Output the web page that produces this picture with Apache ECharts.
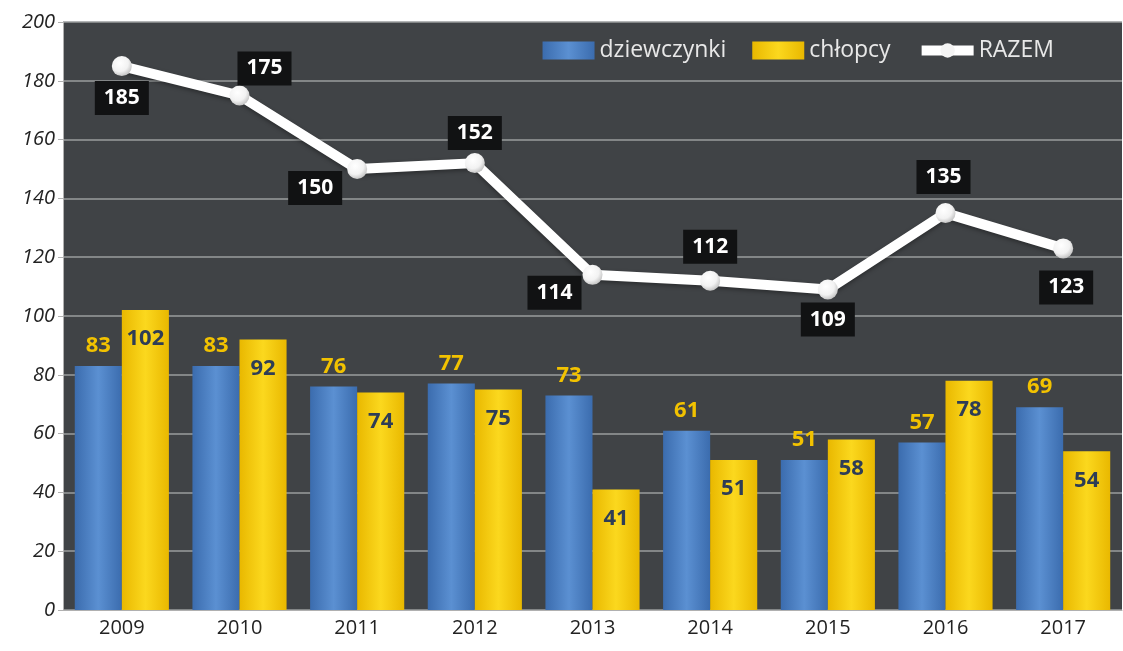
<!DOCTYPE html>
<html><head><meta charset="utf-8">
<script src="https://cdn.jsdelivr.net/npm/echarts@6/dist/echarts.min.js"></script>
<style>html,body{margin:0;padding:0;background:#fff}#c{width:1123px;height:651px}</style>
</head><body><div id="c"></div>
<script>
const years = ['2009','2010','2011','2012','2013','2014','2015','2016','2017'];
const girls = [83, 83, 76, 77, 73, 61, 51, 57, 69];
const boys = [102, 92, 74, 75, 41, 51, 58, 78, 54];
const total = [185, 175, 150, 152, 114, 112, 109, 135, 123];
const seriesNames = ['dziewczynki', 'chłopcy', 'RAZEM'];
// label offsets for the total line (styling only)
const totalLabelOffsets = [[0,32],[25,-27],[-42,19],[0,-30],[-38,18],[0,-34],[0,30],[-2,-36],[3,39]];

const chart = echarts.init(document.getElementById('c'));
const F = 'Open Sans';
const blueGrad = new echarts.graphic.LinearGradient(0,0,1,0,[
  {offset:0,color:'#3b6cae'},{offset:0.5,color:'#5b90d2'},{offset:1,color:'#3b6cae'}]);
const yellowGrad = new echarts.graphic.LinearGradient(0,0,1,0,[
  {offset:0,color:'#e9b800'},{offset:0.5,color:'#fbd81e'},{offset:1,color:'#e9b800'}]);
const ballGrad = new echarts.graphic.RadialGradient(0.4,0.35,0.7,[
  {offset:0,color:'#ffffff'},{offset:0.6,color:'#f2f2f2'},{offset:1,color:'#bdbdbd'}]);

chart.setOption({
  animation: false,
  grid: {left: 63, right: 1, top: 22, bottom: 41, show: true, backgroundColor: '#404346', borderWidth: 0},
  legend: {
    right: 64, top: 34, itemGap: 26, itemWidth: 52, itemHeight: 18,
    textStyle: {color: '#e8e8e8', fontSize: 23, fontFamily: F},
    data: [
      {name: seriesNames[0], icon: 'rect'},
      {name: seriesNames[1], icon: 'rect'},
      {name: seriesNames[2], lineStyle: {width: 10, color: '#ffffff'}, itemStyle: {color: '#f4f4f4'}}
    ]
  },
  xAxis: {
    type: 'category', data: years,
    axisLine: {lineStyle: {color: '#b0b0b0'}},
    axisLabel: {fontSize: 20, color: '#222222', fontFamily: F}
  },
  yAxis: {
    type: 'value', min: 0, max: 200, interval: 20,
    axisLine: {show: true, lineStyle: {color: '#b0b0b0'}},
    axisTick: {show: true},
    splitLine: {lineStyle: {color: '#9a9c9e', width: 1.5}},
    axisLabel: {fontSize: 20, color: '#222222', fontStyle: 'italic', fontFamily: F}
  },
  series: [
    {
      name: seriesNames[0], type: 'bar', data: girls, barGap: '0%', barCategoryGap: '20%',
      itemStyle: {color: blueGrad},
      label: {show: true, position: 'top', distance: 9, color: '#f2c200', fontSize: 22, fontWeight: 'bold', fontFamily: F}
    },
    {
      name: seriesNames[1], type: 'bar', data: boys,
      itemStyle: {color: yellowGrad},
      label: {show: true, position: 'insideTop', distance: 18, color: '#2e3d56', fontSize: 22, fontWeight: 'bold', fontFamily: F}
    },
    {
      name: seriesNames[2], type: 'line', z: 5,
      data: total.map((v, i) => ({value: v, label: {offset: totalLabelOffsets[i]}})),
      symbol: 'circle', symbolSize: 20,
      lineStyle: {color: '#ffffff', width: 10, shadowColor: 'rgba(0,0,0,0.35)', shadowBlur: 4, shadowOffsetY: 2},
      itemStyle: {color: ballGrad, borderWidth: 0},
      label: {show: true, position: 'inside', color: '#ffffff', fontSize: 21, fontWeight: 'bold',
        backgroundColor: '#111213', padding: [7, 9, 6, 9], fontFamily: F}
    }
  ]
});
</script></body></html>
